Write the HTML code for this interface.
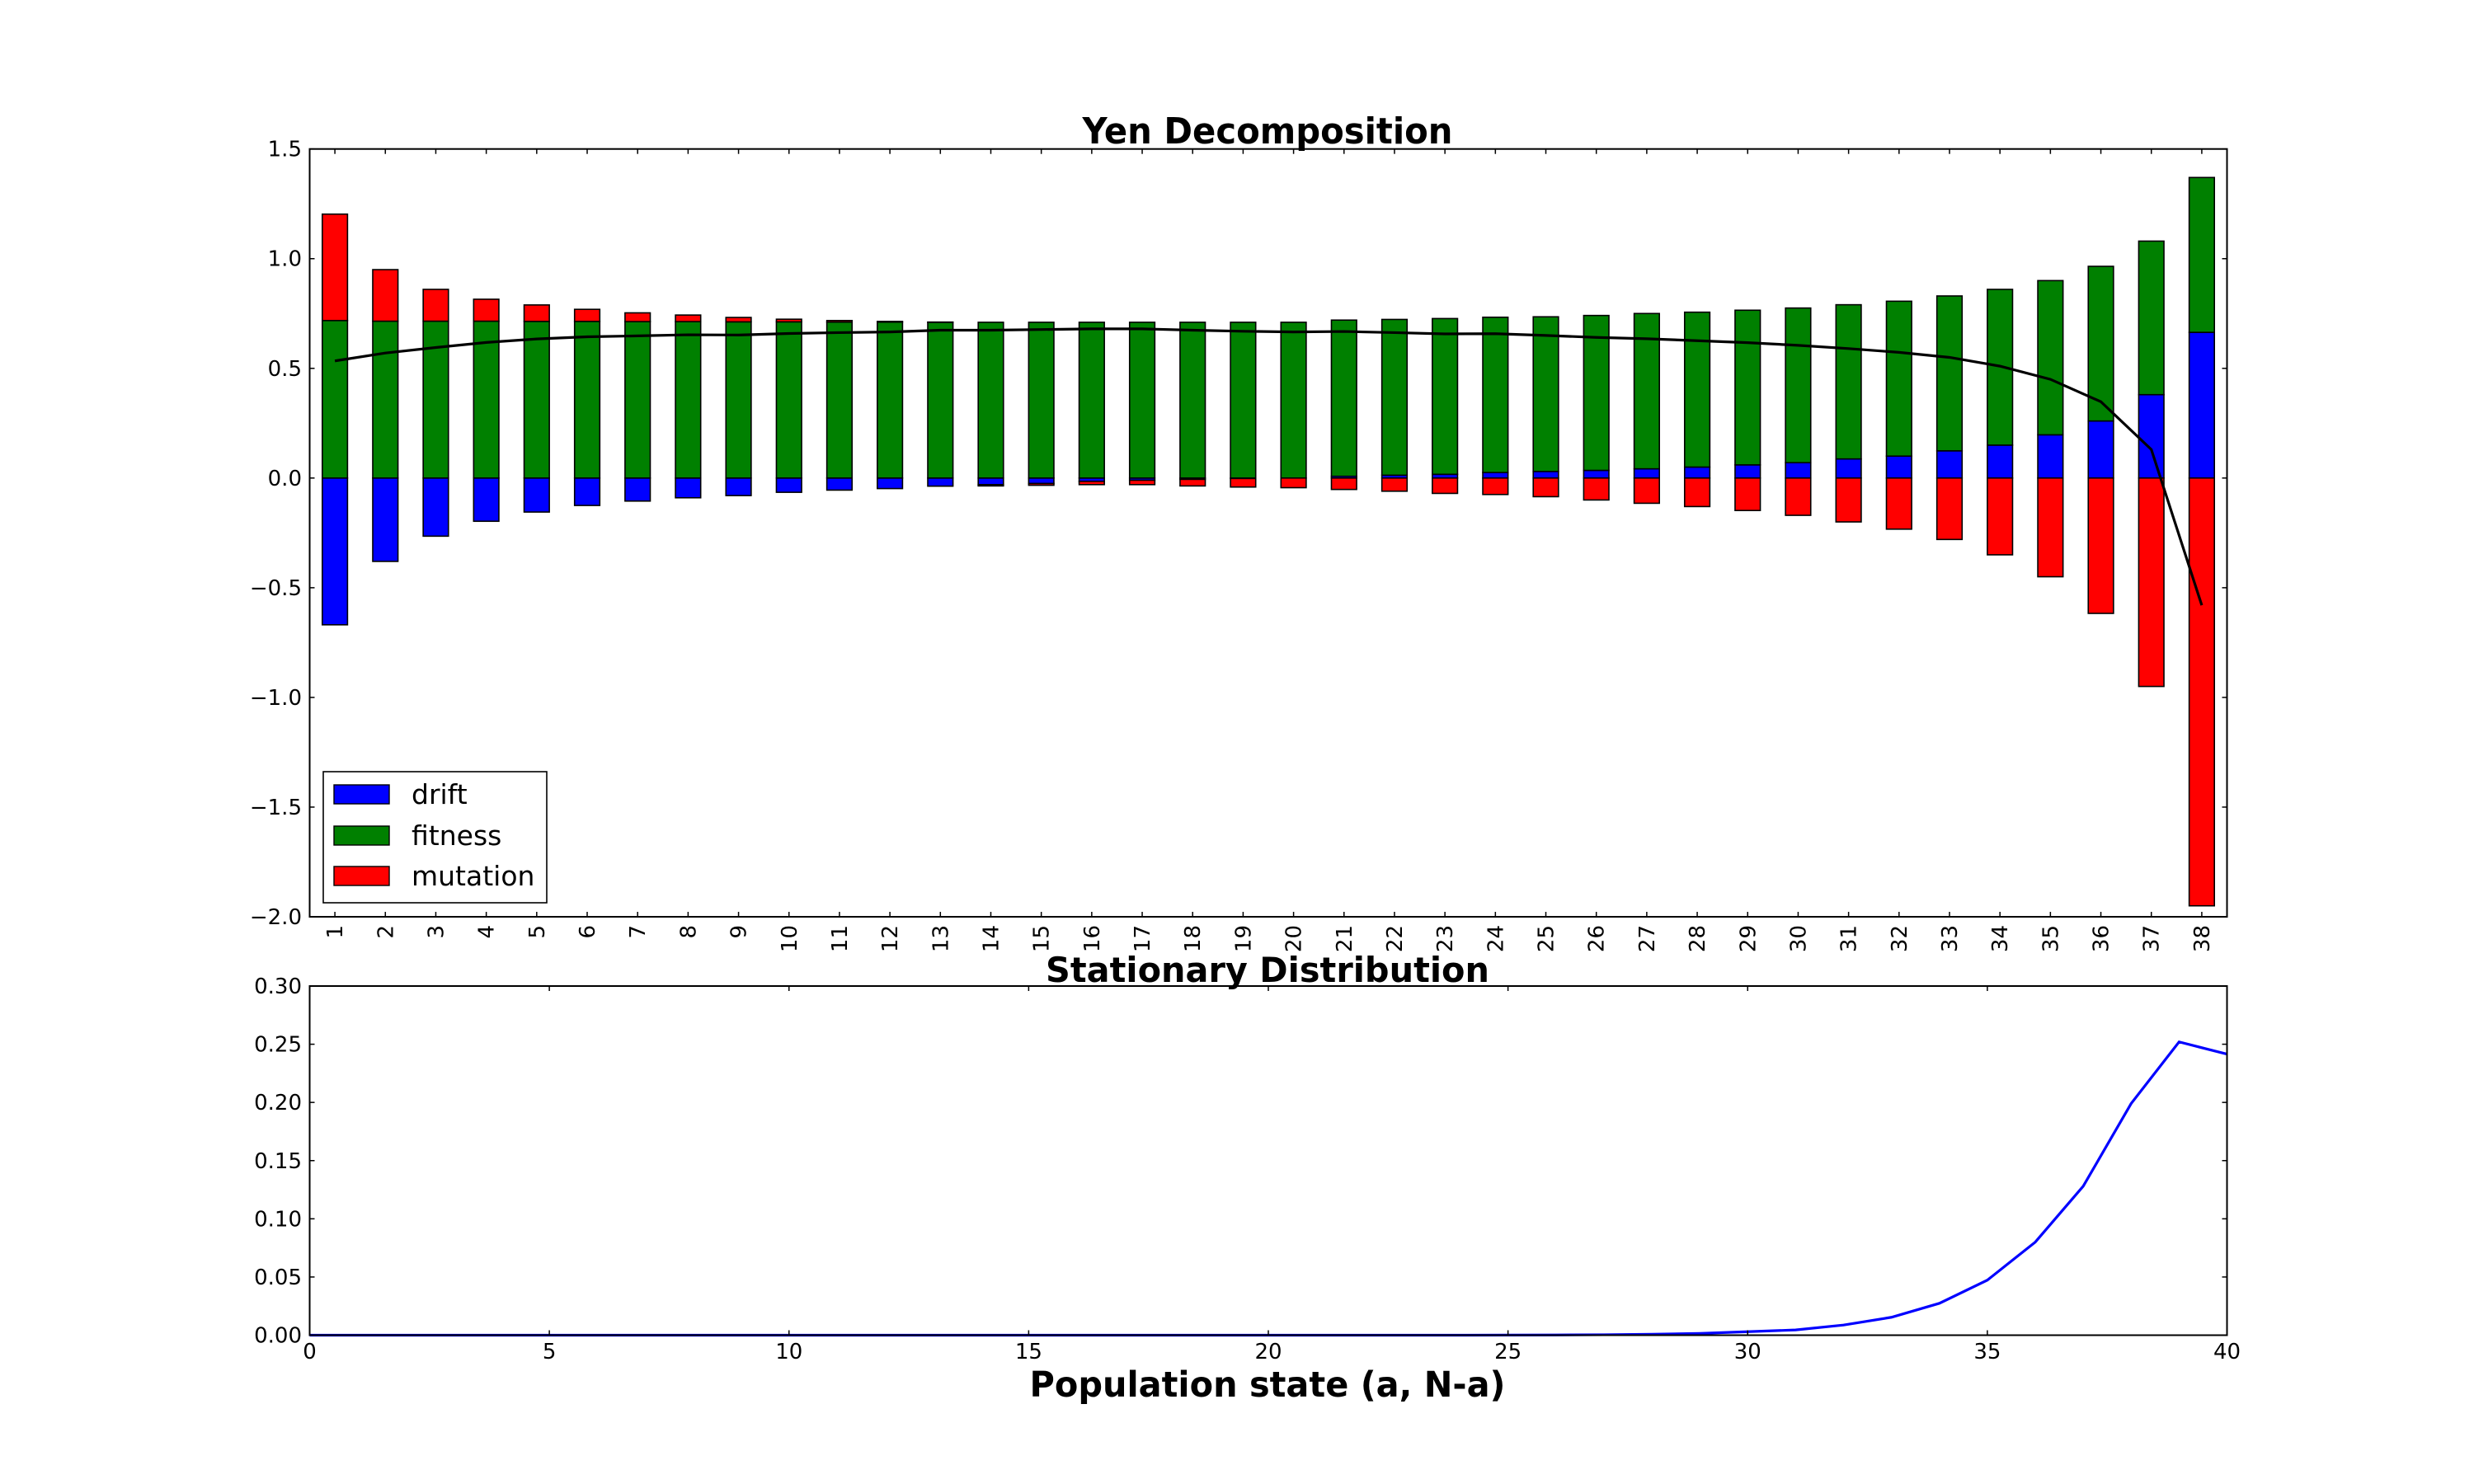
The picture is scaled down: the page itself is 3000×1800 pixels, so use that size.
<!DOCTYPE html>
<html><head><meta charset="utf-8"><style>
html,body{margin:0;padding:0;background:#fff;}
svg{display:block;font-family:"DejaVu Sans","Liberation Sans",sans-serif;}
</style></head><body>
<svg id="fig" width="3000" height="1800" viewBox="0 0 3000 1800" xmlns="http://www.w3.org/2000/svg">
<rect width="3000" height="1800" fill="#fff"/>
<g id="topChart"></g>
<g id="botChart"></g>
</svg>
<script>
const categories = [1,2,3,4,5,6,7,8,9,10,11,12,13,14,15,16,17,18,19,20,21,22,23,24,25,26,27,28,29,30,31,32,33,34,35,36,37,38];
const drift = [-0.669,-0.38,-0.265,-0.197,-0.155,-0.125,-0.105,-0.09,-0.08,-0.065,-0.055,-0.048,-0.037,-0.03,-0.025,-0.015,-0.01,-0.006,-0.002,0,0.008,0.013,0.017,0.025,0.03,0.035,0.042,0.05,0.06,0.07,0.087,0.1,0.124,0.15,0.197,0.26,0.38,0.664];
const fitness = [0.718,0.715,0.715,0.715,0.714,0.714,0.713,0.713,0.712,0.712,0.711,0.711,0.71,0.71,0.71,0.71,0.71,0.71,0.71,0.71,0.712,0.71,0.71,0.708,0.705,0.706,0.708,0.706,0.705,0.705,0.703,0.706,0.706,0.71,0.703,0.705,0.70,0.706];
const mutation = [0.485,0.235,0.145,0.1,0.075,0.055,0.04,0.03,0.02,0.012,0.007,0.003,0.001,-0.006,-0.008,-0.015,-0.02,-0.03,-0.039,-0.044,-0.052,-0.06,-0.07,-0.075,-0.085,-0.1,-0.115,-0.13,-0.148,-0.17,-0.2,-0.233,-0.28,-0.35,-0.45,-0.617,-0.95,-1.95];
const topYTicks = [1.5,1.0,0.5,0.0,-0.5,-1.0,-1.5,-2.0];
const topYLabels = ["1.5","1.0","0.5","0.0","\u22120.5","\u22121.0","\u22121.5","\u22122.0"];
const statX = [0,1,2,3,4,5,6,7,8,9,10,11,12,13,14,15,16,17,18,19,20,21,22,23,24,25,26,27,28,29,30,31,32,33,34,35,36,37,38,39,40];
const statY = [0,0,0,0,0,0,0,0,0,0,0,0,0,0,0,0,0,0,0,0,0,0,0,0,0,0.0001,0.0002,0.0004,0.0008,0.0015,0.003,0.0045,0.0087,0.0154,0.0274,0.0473,0.080,0.128,0.199,0.252,0.2415];
const botYTicks = [0,0.05,0.10,0.15,0.20,0.25,0.30];
const botYLabels = ["0.00","0.05","0.10","0.15","0.20","0.25","0.30"];
const botXTicks = [0,5,10,15,20,25,30,35,40];

const NS="http://www.w3.org/2000/svg";
function mk(tag, attrs, parent){const e=document.createElementNS(NS,tag);for(const k in attrs)e.setAttribute(k,attrs[k]);parent.appendChild(e);return e;}

// ---- top chart ----
const T={l:375.5,r:2700.5,t:180.7,b:1112};
const topG=document.getElementById('topChart');
const xT=i=>T.l+(i+0.5)*(T.r-T.l)/categories.length;
const yT=v=>T.t+(1.5-v)*(T.b-T.t)/3.5;
const bw=0.5*(T.r-T.l)/categories.length;
const colors={drift:'#0000ff',fitness:'#008000',mutation:'#ff0000'};
const series=[['drift',drift],['fitness',fitness],['mutation',mutation]];
categories.forEach((c,i)=>{
  let pos=0,neg=0;
  series.forEach(([name,arr])=>{
    const v=arr[i]; let y0,y1;
    if(v>=0){y0=pos;y1=pos+v;pos=y1;}else{y0=neg;y1=neg+v;neg=y1;}
    const r=mk('rect',{x:xT(i)-bw/2,y:Math.min(yT(y0),yT(y1)),width:bw,height:Math.abs(yT(y1)-yT(y0)),fill:colors[name],stroke:'#000','stroke-width':1.6},topG);
    
    
  });
});
let pts=categories.map((c,i)=>xT(i)+','+yT(drift[i]+fitness[i]+mutation[i])).join(' ');
const tl=mk('polyline',{points:pts,fill:'none',stroke:'#000','stroke-width':3.2},topG);


const tf=mk('rect',{x:T.l,y:T.t,width:T.r-T.l,height:T.b-T.t,fill:'none',stroke:'#000','stroke-width':2},topG);


topYTicks.forEach((v,k)=>{
  const y=yT(v);
  mk('line',{x1:T.l,x2:T.l+6,y1:y,y2:y,stroke:'#000','stroke-width':1.5},topG);
  mk('line',{x1:T.r,x2:T.r-6,y1:y,y2:y,stroke:'#000','stroke-width':1.5},topG);
  const t=mk('text',{x:366,y:y+9,'text-anchor':'end','font-size':26},topG);
  t.textContent=topYLabels[k];
  
  
});
categories.forEach((c,i)=>{
  const x=xT(i);
  mk('line',{x1:x,x2:x,y1:T.b,y2:T.b-6,stroke:'#000','stroke-width':1.5},topG);
  mk('line',{x1:x,x2:x,y1:T.t,y2:T.t+6,stroke:'#000','stroke-width':1.5},topG);
  const t=mk('text',{x:0,y:0,'text-anchor':'end','font-size':26,transform:`translate(${x+9},${T.b+10}) rotate(-90)`},topG);
  t.textContent=String(c);
  
  
});
const tt=mk('text',{x:1537,y:174,'text-anchor':'middle','font-size':44,'font-weight':'bold',textLength:449,lengthAdjust:'spacingAndGlyphs'},topG);
tt.textContent='Yen Decomposition';


// legend
const lg=mk('g',{},topG);


mk('rect',{x:392,y:936,width:271,height:159,fill:'#fff',stroke:'#000','stroke-width':1.6},lg);
[['drift',952],['fitness',1002],['mutation',1051]].forEach(([n,y])=>{
  const e=mk('g',{},lg);
  
  
  mk('rect',{x:405,y:y,width:67,height:23,fill:colors[n],stroke:'#000','stroke-width':1.4},e);
  const t=mk('text',{x:499,y:y+23,'font-size':33},e);
  t.textContent=n;
});

// ---- bottom chart ----
const B={l:375.5,r:2700.5,t:1196,b:1619.5};
const botG=document.getElementById('botChart');
const xB=v=>B.l+v*(B.r-B.l)/40;
const yB=v=>B.b-v*(B.b-B.t)/0.30;
const bl=mk('polyline',{points:statX.map((x,i)=>xB(x)+','+yB(statY[i])).join(' '),fill:'none',stroke:'#0000ff','stroke-width':3.2},botG);


const bf=mk('rect',{x:B.l,y:B.t,width:B.r-B.l,height:B.b-B.t,fill:'none',stroke:'#000','stroke-width':2},botG);


botYTicks.forEach((v,k)=>{
  const y=yB(v);
  mk('line',{x1:B.l,x2:B.l+6,y1:y,y2:y,stroke:'#000','stroke-width':1.5},botG);
  mk('line',{x1:B.r,x2:B.r-6,y1:y,y2:y,stroke:'#000','stroke-width':1.5},botG);
  const t=mk('text',{x:366,y:y+9,'text-anchor':'end','font-size':26},botG);
  t.textContent=botYLabels[k];
  
  
});
botXTicks.forEach(v=>{
  const x=xB(v);
  mk('line',{x1:x,x2:x,y1:B.b,y2:B.b-6,stroke:'#000','stroke-width':1.5},botG);
  mk('line',{x1:x,x2:x,y1:B.t,y2:B.t+6,stroke:'#000','stroke-width':1.5},botG);
  const t=mk('text',{x:x,y:1648,'text-anchor':'middle','font-size':26},botG);
  t.textContent=String(v);
  
  
});
const bt=mk('text',{x:1537,y:1191,'text-anchor':'middle','font-size':42,'font-weight':'bold',textLength:538,lengthAdjust:'spacingAndGlyphs'},botG);
bt.textContent='Stationary Distribution';


const xl=mk('text',{x:1537,y:1694,'text-anchor':'middle','font-size':43,'font-weight':'bold',textLength:577,lengthAdjust:'spacingAndGlyphs'},botG);
xl.textContent='Population state (a, N-a)';


</script>
</body></html>
